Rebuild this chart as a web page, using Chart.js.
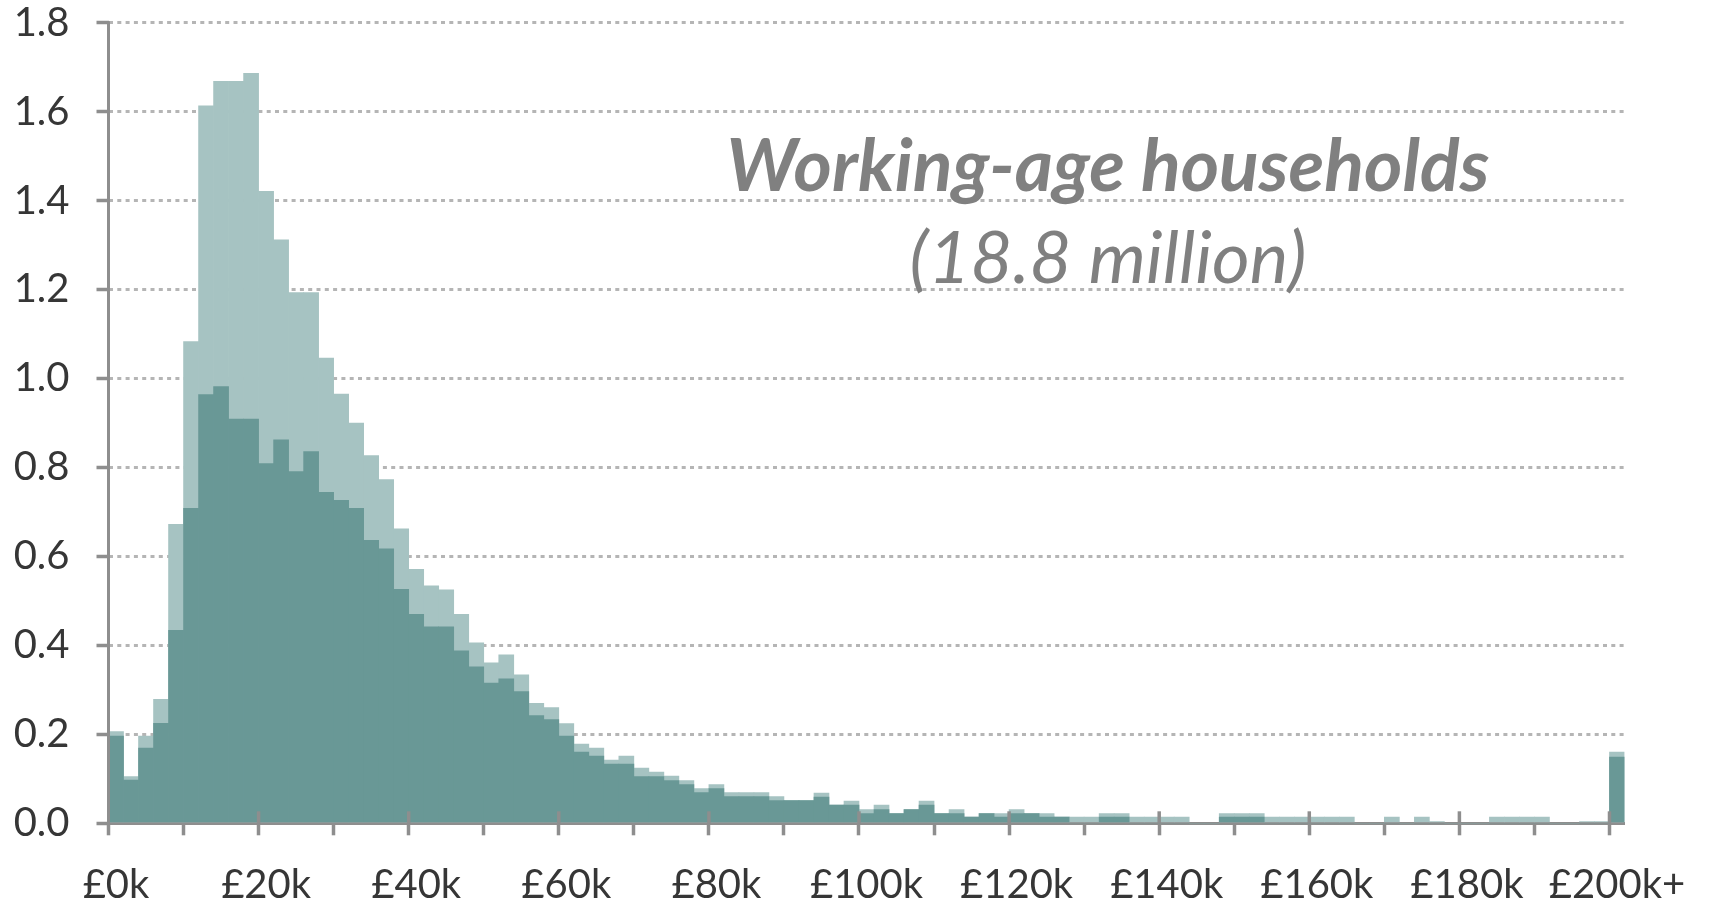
<!DOCTYPE html>
<html>
<head>
<meta charset="utf-8">
<script src="https://cdn.jsdelivr.net/npm/chart.js@4.4.1/dist/chart.umd.min.js"></script>
<style>
  html, body { margin: 0; padding: 0; background: #ffffff; }
  canvas { display: block; }
</style>
</head>
<body>
<canvas id="chart" width="1709" height="903"></canvas>
<script>
// ---- Data (household income distribution, millions of households per £2k band) ----
const binStartK = [0,2,4,6,8,10,12,14,16,18,20,22,24,26,28,30,32,34,36,38,40,42,44,46,48,50,52,54,56,58,60,62,64,66,68,70,72,74,76,78,80,82,84,86,88,90,92,94,96,98,100,102,104,106,108,110,112,114,116,118,120,122,124,126,128,130,132,134,136,138,140,142,144,146,148,150,152,154,156,158,160,162,164,166,168,170,172,174,176,178,180,182,184,186,188,190,192,194,196,198,200];
const binWidthK = 2;

// lighter series: all working-age households
const allHouseholds = [0.206,0.105,0.196,0.279,0.672,1.083,1.613,1.668,1.668,1.686,1.421,1.312,1.193,1.193,1.046,0.965,0.900,0.827,0.773,0.662,0.571,0.534,0.525,0.470,0.406,0.361,0.379,0.334,0.270,0.260,0.224,0.178,0.169,0.142,0.151,0.124,0.115,0.106,0.096,0.078,0.087,0.069,0.069,0.069,0.060,0.051,0.051,0.068,0.041,0.050,0.031,0.041,0.022,0.031,0.050,0.022,0.031,0.014,0.022,0.022,0.031,0.022,0.022,0.014,0.014,0.014,0.022,0.022,0.014,0.014,0.014,0.014,0,0,0.022,0.022,0.022,0.014,0.014,0.014,0.014,0.014,0.014,0,0,0.014,0,0.014,0.004,0,0,0,0.014,0.014,0.014,0.014,0,0,0.004,0.004,0.160];

// darker series (overlaid)
const subsetHouseholds = [0.196,0.097,0.169,0.225,0.434,0.708,0.964,0.982,0.909,0.909,0.809,0.862,0.791,0.836,0.744,0.726,0.708,0.636,0.617,0.526,0.470,0.442,0.442,0.388,0.352,0.315,0.325,0.296,0.242,0.233,0.196,0.160,0.151,0.133,0.133,0.105,0.105,0.096,0.087,0.069,0.078,0.060,0.060,0.060,0.051,0.051,0.051,0.059,0.041,0.041,0.022,0.031,0.022,0.031,0.041,0.022,0.022,0.014,0.022,0.014,0.022,0.022,0.014,0.014,0,0,0.014,0.014,0,0,0,0,0,0,0.014,0.014,0.014,0,0,0,0,0,0,0,0,0,0,0,0,0,0,0,0,0,0,0,0,0,0,0,0.149];

const xTickValues = [0,20,40,60,80,100,120,140,160,180,200];
const xTickLabels = ['£0k','£20k','£40k','£60k','£80k','£100k','£120k','£140k','£160k','£180k','£200k+'];
const yTickValues = [0,0.2,0.4,0.6,0.8,1.0,1.2,1.4,1.6,1.8];
const annotationLines = ['Working-age households', '(18.8 million)'];

// ---- Styles ----
const LIGHT = '#a6c3c2';
const DARK = '#699896';
const AXIS = '#8e8e8e';
const GRID = '#b5b5b5';
const TEXT = '#363636';
const NOTE = '#808080';
const FONT = 'Lato, "Open Sans", sans-serif';

const toPoints = (vals) => vals.map((v, i) => ({ x: binStartK[i] + binWidthK / 2, y: v }));

const axisOverlay = {
  id: 'axisOverlay',
  afterDatasetsDraw(chart) {
    const { ctx, scales: { x, y } } = chart;
    ctx.save();
    ctx.strokeStyle = AXIS;
    ctx.lineWidth = 3;
    ctx.beginPath();
    ctx.moveTo(x.left, y.getPixelForValue(yTickValues[yTickValues.length - 1]) - 1.5);
    ctx.lineTo(x.left, y.getPixelForValue(0) + 1.5);
    ctx.stroke();
    ctx.restore();
  },
  afterDraw(chart) {
    const { ctx, scales: { x, y } } = chart;
    const y0 = y.getPixelForValue(0);
    ctx.save();
    ctx.strokeStyle = AXIS;
    ctx.lineWidth = 3.5;
    xTickValues.forEach(v => {
      if (v === 0) return;
      const px = x.getPixelForValue(v);
      ctx.beginPath();
      ctx.moveTo(px, y0 - 12);
      ctx.lineTo(px, y0);
      ctx.stroke();
    });
    // annotation text
    const cx = 1108;
    const fit = (text, weight, target) => {
      ctx.font = `italic ${weight} 100px ${FONT}`;
      const w = ctx.measureText(text).width;
      return 100 * target / w;
    };
    ctx.fillStyle = NOTE;
    ctx.textAlign = 'center';
    ctx.textBaseline = 'alphabetic';
    const s1 = fit(annotationLines[0], 'bold', 763);
    ctx.font = `italic bold ${s1}px ${FONT}`;
    ctx.fillText(annotationLines[0], cx, 191);
    const s2 = fit(annotationLines[1], 'normal', 397);
    ctx.font = `italic normal ${s2}px ${FONT}`;
    ctx.fillText(annotationLines[1], cx, 283);
    ctx.restore();
  }
};

new Chart(document.getElementById('chart'), {
  type: 'bar',
  data: {
    datasets: [
      { label: 'Subset', data: toPoints(subsetHouseholds), backgroundColor: DARK, grouped: false,
        barPercentage: 1, categoryPercentage: 1, borderWidth: 0 },
      { label: 'All working-age households', data: toPoints(allHouseholds), backgroundColor: LIGHT, grouped: false,
        barPercentage: 1, categoryPercentage: 1, borderWidth: 0 }
    ]
  },
  options: {
    responsive: false,
    animation: false,
    events: [],
    layout: { padding: { top: 22.7, right: 84.5, bottom: 0, left: 0 } },
    plugins: { legend: { display: false }, tooltip: { enabled: false }, title: { display: false } },
    scales: {
      x: {
        type: 'linear',
        min: 0,
        max: 202,
        offset: false,
        z: 1,
        afterFit: (s) => { s.height = 903 - 823.3; s.paddingLeft = 0; s.paddingRight = 0; },
        afterBuildTicks: (s) => {
          const t = [];
          for (let v = 0; v <= 200; v += 10) t.push({ value: v });
          s.ticks = t;
        },
        grid: { display: true, offset: false, drawOnChartArea: false, drawTicks: true, tickLength: 12, tickWidth: 3.5, tickColor: AXIS, color: AXIS },
        border: { display: true, color: AXIS, width: 3 },
        ticks: {
          autoSkip: false,
          maxRotation: 0,
          includeBounds: false,
          labelOffset: 7.5,
          padding: 28,
          color: TEXT,
          font: { family: FONT, size: 40, lineHeight: 1.1 },
          callback: (v) => { const i = xTickValues.indexOf(v); return i >= 0 ? xTickLabels[i] : ''; }
        }
      },
      y: {
        min: 0,
        max: 1.8,
        afterFit: (s) => { s.width = 108.5; s.paddingTop = 0; s.paddingBottom = 0; },
        afterBuildTicks: (s) => { s.ticks = yTickValues.map(v => ({ value: v })); },
        grid: {
          color: (c) => (c.tick && c.tick.value === 0) ? 'rgba(0,0,0,0)' : GRID,
          lineWidth: 3,
          drawTicks: true,
          tickLength: 12,
          tickWidth: 3.5,
          tickColor: AXIS
        },
        border: { display: false, dash: [4, 4.3] },
        ticks: {
          padding: 27,
          color: TEXT,
          font: { family: FONT, size: 40, lineHeight: 1.1 },
          callback: (v) => Number(v).toFixed(1)
        }
      }
    }
  },
  plugins: [axisOverlay]
});
</script>
</body>
</html>
